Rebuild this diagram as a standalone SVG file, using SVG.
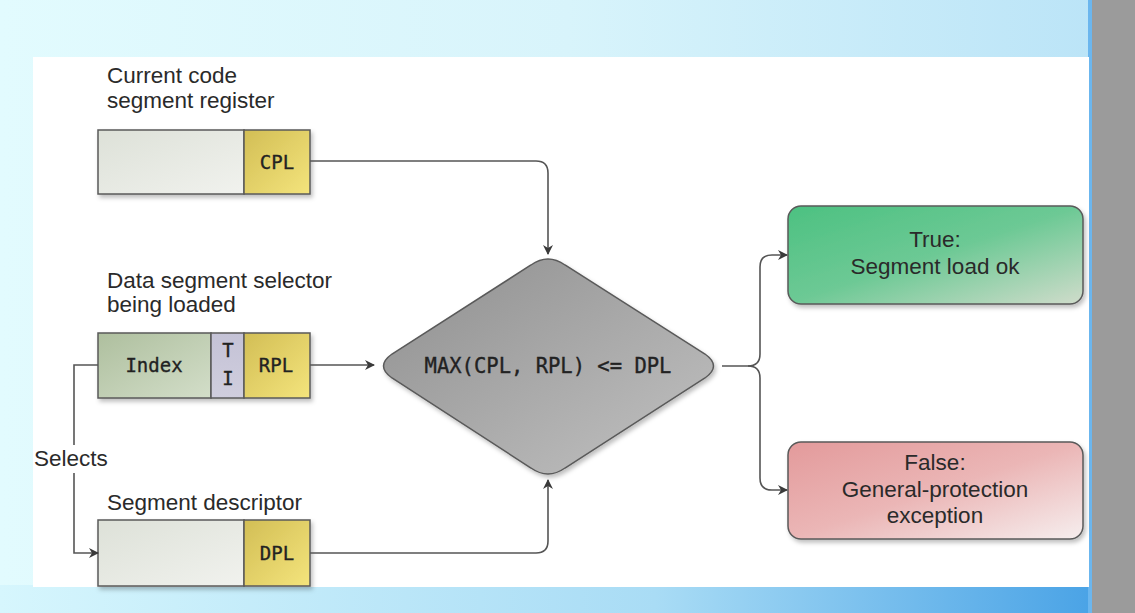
<svg xmlns="http://www.w3.org/2000/svg" width="1135" height="613" viewBox="0 0 1135 613">
<defs>
<linearGradient id="bg" x1="0" y1="0" x2="1" y2="0"><stop offset="0" stop-color="#e2fbfe"/><stop offset="0.5" stop-color="#d8f4fb"/><stop offset="1" stop-color="#b9e3f7"/></linearGradient>
<linearGradient id="bgb" x1="0" y1="0" x2="1" y2="0"><stop offset="0" stop-color="#d6f6fd"/><stop offset="0.6" stop-color="#a9dcf5"/><stop offset="1" stop-color="#4aa3e6"/></linearGradient>
<linearGradient id="gl" x1="0" y1="0" x2="1" y2="1"><stop offset="0" stop-color="#dde1d8"/><stop offset="1" stop-color="#f1f2ee"/></linearGradient>
<linearGradient id="yl" x1="0" y1="0" x2="1" y2="1"><stop offset="0" stop-color="#d2be55"/><stop offset="1" stop-color="#f4e47c"/></linearGradient>
<linearGradient id="ix" x1="0" y1="0" x2="1" y2="1"><stop offset="0" stop-color="#aebf9e"/><stop offset="1" stop-color="#d3dec9"/></linearGradient>
<linearGradient id="ti" x1="0" y1="0" x2="0" y2="1"><stop offset="0" stop-color="#c4c2d6"/><stop offset="1" stop-color="#d0cede"/></linearGradient>
<linearGradient id="dm" x1="0" y1="0" x2="1" y2="1"><stop offset="0" stop-color="#8f8f8f"/><stop offset="1" stop-color="#c2c2c2"/></linearGradient>
<linearGradient id="gr" x1="0" y1="0" x2="1" y2="1"><stop offset="0" stop-color="#4cc181"/><stop offset="0.5" stop-color="#6dc995"/><stop offset="1" stop-color="#d0dccb"/></linearGradient>
<linearGradient id="rd" x1="0" y1="0" x2="1" y2="1"><stop offset="0" stop-color="#e39a9b"/><stop offset="0.5" stop-color="#ebb6b6"/><stop offset="1" stop-color="#f6eeee"/></linearGradient>
<marker id="ah" markerWidth="10" markerHeight="10" refX="9" refY="5" orient="auto" markerUnits="userSpaceOnUse"><path d="M0,0 L10,5 L0,10 L3,5 Z" fill="#3a3a3a"/></marker>
<filter id="sh" x="-10%" y="-10%" width="120%" height="130%"><feDropShadow dx="2" dy="3" stdDeviation="2" flood-color="#000" flood-opacity="0.25"/></filter>
</defs>
<style>
.bx{stroke:#5a5a5a;stroke-width:1.5}
.mono{font-family:"DejaVu Sans Mono","Liberation Mono",monospace;font-size:19px;fill:#222;text-anchor:middle;stroke:#222;stroke-width:0.35}
.lbl{font-family:"Liberation Sans",Arial,sans-serif;font-size:22.5px;fill:#2a2a2a}
.ctr{text-anchor:middle}
.cn{fill:none;stroke:#555;stroke-width:1.6}
</style>
<rect x="0" y="0" width="1135" height="613" fill="url(#bg)"/>
<rect x="0" y="585" width="1092" height="28" fill="url(#bgb)"/>
<rect x="1088" y="0" width="4" height="613" fill="#6bb6ee"/>
<rect x="1092" y="0" width="43" height="613" fill="#9b9b9b"/>
<rect x="33" y="57" width="1056" height="530" fill="#ffffff"/>

<g id="cs-register">
<text class="lbl" x="107" y="83">Current code</text>
<text class="lbl" x="107" y="108">segment register</text>
<g filter="url(#sh)">
<rect class="bx" x="98" y="130" width="146" height="64" fill="url(#gl)"/>
<rect class="bx" x="244" y="130" width="66" height="64" fill="url(#yl)"/>
</g>
<text class="mono" x="277" y="169">CPL</text>
</g>

<g id="ds-selector">
<text class="lbl" x="107" y="288">Data segment selector</text>
<text class="lbl" x="107" y="312">being loaded</text>
<g filter="url(#sh)">
<rect class="bx" x="98" y="333" width="113" height="65" fill="url(#ix)"/>
<rect class="bx" x="211" y="333" width="33" height="65" fill="url(#ti)"/>
<rect class="bx" x="244" y="333" width="66" height="65" fill="url(#yl)"/>
</g>
<text class="mono" x="154" y="372">Index</text>
<text class="mono" x="228" y="357">T</text>
<text class="mono" x="228" y="385">I</text>
<text class="mono" x="276" y="372">RPL</text>
</g>

<g id="seg-descriptor">
<text class="lbl" x="107" y="510">Segment descriptor</text>
<g filter="url(#sh)">
<rect class="bx" x="98" y="520" width="146" height="66" fill="url(#gl)"/>
<rect class="bx" x="244" y="520" width="66" height="66" fill="url(#yl)"/>
</g>
<text class="mono" x="277" y="560">DPL</text>
</g>

<g id="decision">
<path class="bx" filter="url(#sh)" fill="url(#dm)" d="M531,265 Q548,253 565,265 L705,354 Q722,366 705,378 L565,468 Q548,480 531,468 L392,378 Q375,366 392,354 Z"/>
<text class="mono" x="548" y="373" style="font-size:20.5px">MAX(CPL, RPL) &lt;= DPL</text>
</g>

<g id="true-box">
<rect class="bx" filter="url(#sh)" x="788" y="206" width="295" height="98" rx="13" fill="url(#gr)"/>
<text class="lbl ctr" x="935" y="247">True:</text>
<text class="lbl ctr" x="935" y="274">Segment load ok</text>
</g>

<g id="false-box">
<rect class="bx" filter="url(#sh)" x="788" y="442" width="295" height="97" rx="13" fill="url(#rd)"/>
<text class="lbl ctr" x="935" y="470">False:</text>
<text class="lbl ctr" x="935" y="497">General-protection</text>
<text class="lbl ctr" x="935" y="523">exception</text>
</g>

<g id="connectors">
<path class="cn" marker-end="url(#ah)" d="M310,161 H536 Q548,161 548,173 V254"/>
<path class="cn" marker-end="url(#ah)" d="M310,365 H374"/>
<path class="cn" marker-end="url(#ah)" d="M310,553 H536 Q548,553 548,541 V480"/>
<path class="cn" marker-end="url(#ah)" d="M722,366 H748 Q760,366 760,354 V267 Q760,255 772,255 H787"/>
<path class="cn" marker-end="url(#ah)" d="M748,366 Q760,366 760,378 V478 Q760,490 772,490 H787"/>
<path class="cn" d="M98,365 H74 V445"/>
<path class="cn" marker-end="url(#ah)" d="M74,473 V553 H98"/>
<text class="lbl" x="34" y="466">Selects</text>
</g>
</svg>
